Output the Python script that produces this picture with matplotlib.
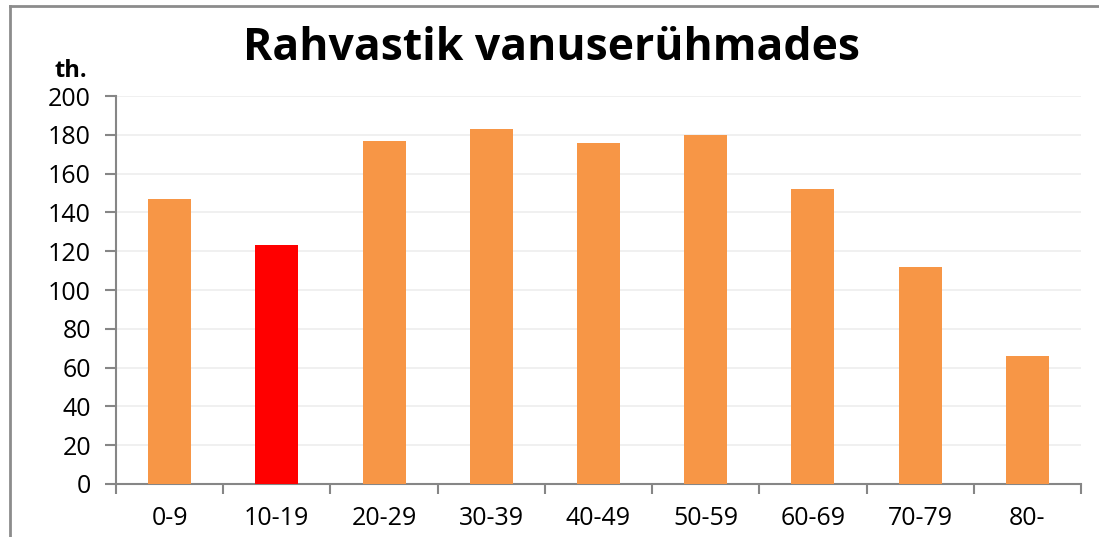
import matplotlib

matplotlib.use("Agg")
import matplotlib.pyplot as plt
from matplotlib.lines import Line2D

groups = ["0-9", "10-19", "20-29", "30-39", "40-49", "50-59", "60-69", "70-79", "80-"]
population = [147, 123, 177, 183, 176, 180, 152, 112, 66]
highlight = "10-19"

ORANGE = "#F79646"
RED = "#FF0000"
GRAY = "#868686"

plt.rcParams["font.family"] = ["Open Sans", "DejaVu Sans"]

fig = plt.figure(figsize=(10.99, 5.37), dpi=100)
ax = fig.add_axes([0.1056, 0.0987, 0.8780, 0.7225])

x = list(range(len(groups)))
colors = [RED if g == highlight else ORANGE for g in groups]
ax.bar(x, population, width=0.40, color=colors, zorder=3)

ax.set_xlim(-0.5, len(groups) - 0.5)
ax.set_ylim(0, 200)
ax.set_yticks(range(0, 201, 20))
ax.set_xticks(x)
ax.set_xticklabels(groups)
ax.set_xticks([i - 0.5 for i in range(len(groups) + 1)], minor=True)
ax.tick_params(axis="x", which="major", length=0, pad=16, labelsize=18)
ax.tick_params(axis="x", which="minor", length=7, width=1.5, color=GRAY)
ax.tick_params(axis="y", length=8, width=1.5, color=GRAY, labelsize=18, pad=10)

ax.grid(axis="y", color="#EEEEEE", lw=1.2, zorder=0)
for s in ["top", "right"]:
    ax.spines[s].set_visible(False)
for s in ["left", "bottom"]:
    ax.spines[s].set_color(GRAY)
    ax.spines[s].set_linewidth(1.5)

fig.text(0.502, 0.91, "Rahvastik vanuserühmades", ha="center", va="center",
         fontsize=32, fontweight="bold")
fig.text(0.064, 0.867, "th.", ha="center", va="center", fontsize=17, fontweight="bold")

# chart frame (only top and left edges are visible in the crop)
fig.add_artist(Line2D([0.0095, 0.0095], [0, 0.989], transform=fig.transFigure,
                      color="#8C8C8C", lw=2))
fig.add_artist(Line2D([0.0095, 1.0], [0.989, 0.989], transform=fig.transFigure,
                      color="#8C8C8C", lw=2))

fig.savefig("out.png", dpi=100)
